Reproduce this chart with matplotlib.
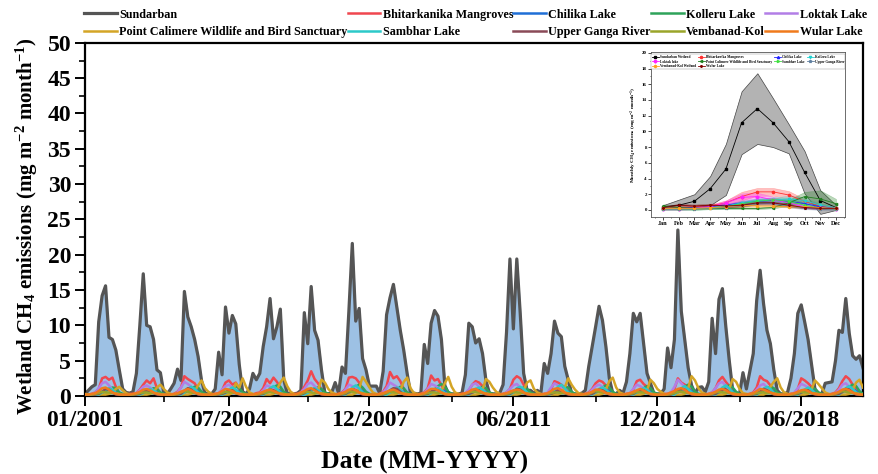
import numpy as np
import matplotlib
matplotlib.use("Agg")
import matplotlib.pyplot as plt
from matplotlib.ticker import MultipleLocator, FixedLocator

plt.rcParams['font.family'] = ['Liberation Serif', 'DejaVu Serif']
plt.rcParams['font.weight'] = 'bold'
plt.rcParams['mathtext.fontset'] = 'custom'
plt.rcParams['mathtext.rm'] = 'Liberation Serif:bold'
plt.rcParams['mathtext.bf'] = 'Liberation Serif:bold'
plt.rcParams['mathtext.it'] = 'Liberation Serif:bold:italic'

# monthly emissions, Jan 2001 .. Dec 2019, one row per year
sundarban = [
    [0.3, 0.8, 1.3, 1.6, 10.5, 14.2, 15.6, 8.3, 8.0, 6.5, 3.7, 1.0],
    [0.5, 0.4, 0.6, 3.2, 10.0, 17.3, 10.0, 9.8, 8.0, 3.7, 3.3, 0.4],
    [0.3, 1.0, 1.8, 3.8, 2.2, 14.8, 11.2, 9.8, 8.0, 5.6, 2.2, 0.4],
    [0.3, 0.3, 1.0, 6.2, 3.0, 12.6, 8.9, 11.4, 10.2, 4.5, 0.6, 0.3],
    [1.0, 3.2, 2.3, 3.2, 7.0, 9.8, 13.8, 8.1, 9.8, 12.3, 2.3, 0.4],
    [0.3, 0.3, 0.4, 0.8, 11.8, 7.4, 15.5, 9.3, 7.9, 3.7, 0.4, 0.3],
    [0.5, 1.9, 0.4, 4.1, 3.2, 12.0, 21.6, 10.6, 12.4, 5.3, 3.7, 1.4],
    [1.4, 1.4, 0.4, 3.5, 11.5, 13.9, 15.8, 12.6, 9.3, 6.5, 3.2, 0.4],
    [0.4, 0.3, 0.4, 7.3, 4.6, 10.3, 12.1, 11.3, 8.0, 1.5, 0.4, 0.3],
    [0.3, 0.3, 0.4, 3.0, 10.3, 9.8, 7.5, 8.1, 6.0, 2.2, 0.4, 0.3],
    [0.3, 0.4, 1.6, 9.0, 19.4, 9.5, 19.4, 11.7, 3.2, 0.8, 0.8, 0.4],
    [0.8, 0.3, 4.6, 3.2, 6.0, 10.6, 8.9, 8.4, 4.2, 2.3, 0.4, 0.3],
    [0.3, 0.4, 0.8, 4.2, 7.0, 9.8, 12.7, 10.7, 7.0, 2.5, 0.4, 0.3],
    [0.8, 0.4, 2.0, 6.0, 11.7, 10.5, 11.7, 7.4, 3.2, 1.8, 0.4, 0.3],
    [0.3, 1.0, 6.8, 4.0, 8.0, 23.5, 12.0, 8.0, 4.0, 1.5, 0.4, 1.2],
    [1.3, 0.6, 2.0, 11.0, 6.0, 13.7, 15.2, 9.8, 5.0, 0.8, 0.4, 0.3],
    [3.3, 1.0, 3.5, 6.0, 13.5, 17.8, 13.1, 9.3, 7.4, 3.7, 0.8, 0.3],
    [0.3, 0.5, 2.5, 6.0, 11.7, 12.9, 10.5, 8.0, 4.5, 1.0, 0.4, 0.3],
    [1.8, 1.9, 2.0, 5.0, 9.3, 9.0, 13.8, 8.9, 5.7, 5.2, 5.7, 4.0],
]
bhitarkanika = [
    [0.2, 0.2, 0.3, 0.5, 1.0, 2.5, 2.7, 2.3, 2.6, 1.3, 0.4, 0.2],
    [0.2, 0.3, 0.3, 0.4, 0.9, 1.6, 2.2, 1.8, 2.5, 1.1, 0.4, 0.2],
    [0.2, 0.2, 0.3, 0.6, 1.2, 2.8, 2.4, 2.1, 1.8, 0.9, 0.3, 0.2],
    [0.2, 0.2, 0.3, 0.4, 0.8, 1.9, 2.2, 1.6, 1.9, 1.0, 0.4, 0.2],
    [0.2, 0.2, 0.4, 0.5, 1.1, 2.4, 1.8, 2.6, 2.0, 1.2, 0.4, 0.2],
    [0.2, 0.3, 0.3, 0.5, 1.3, 2.2, 3.5, 2.4, 1.8, 0.9, 0.3, 0.2],
    [0.2, 0.2, 0.3, 0.5, 1.0, 2.6, 2.7, 2.5, 1.9, 0.8, 0.3, 0.2],
    [0.2, 0.2, 0.3, 0.6, 1.4, 3.4, 2.5, 2.8, 2.1, 1.0, 0.4, 0.2],
    [0.2, 0.2, 0.3, 0.5, 1.1, 2.9, 2.2, 2.4, 1.5, 0.8, 0.3, 0.2],
    [0.2, 0.2, 0.3, 0.4, 0.8, 1.6, 2.1, 1.9, 1.4, 0.9, 0.3, 0.2],
    [0.2, 0.2, 0.3, 0.5, 1.0, 2.3, 2.8, 2.5, 1.6, 0.9, 0.3, 0.2],
    [0.2, 0.2, 0.3, 0.4, 0.9, 2.1, 1.9, 1.6, 1.2, 0.7, 0.3, 0.2],
    [0.2, 0.2, 0.3, 0.5, 1.0, 1.8, 2.2, 2.0, 1.5, 0.8, 0.3, 0.2],
    [0.2, 0.2, 0.3, 0.4, 0.9, 2.1, 2.3, 1.7, 1.3, 0.7, 0.3, 0.2],
    [0.2, 0.3, 0.3, 0.5, 1.0, 2.5, 1.9, 1.6, 1.2, 0.7, 0.3, 0.2],
    [0.2, 0.2, 0.3, 0.5, 1.1, 2.2, 2.7, 2.0, 1.4, 0.8, 0.3, 0.2],
    [0.2, 0.2, 0.3, 0.5, 1.2, 2.8, 2.3, 2.1, 1.5, 0.8, 0.3, 0.2],
    [0.2, 0.2, 0.3, 0.4, 1.0, 2.5, 2.2, 1.8, 1.3, 0.7, 0.3, 0.2],
    [0.2, 0.2, 0.3, 0.5, 1.1, 2.1, 2.8, 2.4, 1.6, 0.9, 0.3, 0.2],
]
chilika = [
    [0.2, 0.2, 0.2, 0.3, 0.4, 0.6, 0.8, 0.9, 0.9, 0.7, 0.4, 0.2],
    [0.2, 0.2, 0.2, 0.3, 0.4, 0.5, 0.7, 0.8, 0.8, 0.6, 0.3, 0.2],
    [0.2, 0.2, 0.2, 0.3, 0.4, 0.6, 0.8, 1.0, 0.9, 0.7, 0.4, 0.2],
    [0.2, 0.2, 0.2, 0.3, 0.4, 0.5, 0.7, 0.9, 0.8, 0.6, 0.3, 0.2],
    [0.2, 0.2, 0.2, 0.3, 0.4, 0.6, 0.9, 1.0, 1.0, 0.7, 0.4, 0.2],
    [0.2, 0.2, 0.2, 0.3, 0.4, 0.6, 0.8, 0.9, 0.9, 0.6, 0.3, 0.2],
    [0.2, 0.2, 0.2, 0.3, 0.4, 0.7, 0.9, 1.1, 1.0, 0.7, 0.4, 0.2],
    [0.2, 0.2, 0.2, 0.3, 0.4, 0.6, 0.8, 0.9, 0.8, 0.6, 0.3, 0.2],
    [0.2, 0.2, 0.2, 0.3, 0.4, 0.6, 0.8, 1.0, 0.9, 0.7, 0.4, 0.2],
    [0.2, 0.2, 0.2, 0.3, 0.4, 0.5, 0.7, 0.8, 0.8, 0.6, 0.3, 0.2],
    [0.2, 0.2, 0.2, 0.3, 0.4, 0.6, 0.9, 1.0, 0.9, 0.7, 0.4, 0.2],
    [0.2, 0.2, 0.2, 0.3, 0.4, 0.6, 0.8, 0.9, 0.9, 0.6, 0.3, 0.2],
    [0.2, 0.2, 0.2, 0.3, 0.4, 0.6, 0.8, 1.0, 0.9, 0.7, 0.4, 0.2],
    [0.2, 0.2, 0.2, 0.3, 0.4, 0.5, 0.7, 0.9, 0.8, 0.6, 0.3, 0.2],
    [0.2, 0.2, 0.2, 0.3, 0.4, 0.7, 0.9, 1.1, 1.0, 0.7, 0.4, 0.2],
    [0.2, 0.2, 0.2, 0.3, 0.4, 0.6, 0.8, 1.0, 0.9, 0.7, 0.4, 0.2],
    [0.2, 0.2, 0.2, 0.3, 0.4, 0.6, 0.8, 0.9, 0.9, 0.6, 0.3, 0.2],
    [0.2, 0.2, 0.2, 0.3, 0.4, 0.5, 0.7, 0.9, 0.8, 0.6, 0.3, 0.2],
    [0.2, 0.2, 0.2, 0.3, 0.4, 0.6, 0.9, 1.0, 1.0, 0.7, 0.4, 0.2],
]
kolleru = [
    [0.2, 0.1, 0.1, 0.1, 0.2, 0.4, 0.7, 1.0, 1.2, 1.1, 0.5, 0.3],
    [0.2, 0.1, 0.1, 0.1, 0.2, 0.3, 0.6, 0.9, 1.1, 1.0, 0.5, 0.3],
    [0.2, 0.1, 0.1, 0.1, 0.2, 0.4, 0.8, 1.1, 1.3, 1.2, 0.6, 0.3],
    [0.2, 0.1, 0.1, 0.1, 0.2, 0.4, 0.7, 1.0, 1.4, 1.1, 0.5, 0.3],
    [0.2, 0.1, 0.1, 0.1, 0.2, 0.5, 0.9, 1.2, 1.5, 1.3, 0.6, 0.3],
    [0.2, 0.1, 0.1, 0.1, 0.2, 0.4, 0.8, 1.1, 1.2, 1.0, 0.5, 0.3],
    [0.2, 0.1, 0.1, 0.1, 0.2, 0.4, 0.8, 1.3, 1.6, 1.2, 0.6, 0.3],
    [0.2, 0.1, 0.1, 0.1, 0.2, 0.4, 0.7, 1.0, 1.3, 1.1, 0.5, 0.3],
    [0.2, 0.1, 0.1, 0.1, 0.2, 0.5, 0.9, 1.4, 1.7, 1.3, 0.6, 0.3],
    [0.2, 0.1, 0.1, 0.1, 0.2, 0.4, 0.8, 1.1, 1.3, 1.1, 0.5, 0.3],
    [0.2, 0.1, 0.1, 0.1, 0.2, 0.4, 0.8, 1.0, 1.2, 1.0, 0.5, 0.3],
    [0.2, 0.1, 0.1, 0.1, 0.2, 0.4, 0.7, 1.0, 1.3, 1.2, 0.6, 0.3],
    [0.2, 0.1, 0.1, 0.1, 0.2, 0.4, 0.8, 1.2, 1.5, 1.2, 0.6, 0.3],
    [0.2, 0.1, 0.1, 0.1, 0.2, 0.4, 0.7, 1.1, 1.4, 1.1, 0.5, 0.3],
    [0.2, 0.1, 0.1, 0.1, 0.2, 0.5, 0.9, 1.3, 1.6, 1.3, 0.6, 0.3],
    [0.2, 0.1, 0.1, 0.1, 0.2, 0.4, 0.8, 1.2, 1.5, 1.2, 0.6, 0.3],
    [0.2, 0.1, 0.1, 0.1, 0.2, 0.4, 0.8, 1.1, 1.3, 1.1, 0.5, 0.3],
    [0.2, 0.1, 0.1, 0.1, 0.2, 0.4, 0.7, 1.0, 1.2, 1.0, 0.5, 0.3],
    [0.2, 0.1, 0.1, 0.1, 0.2, 0.5, 0.9, 1.3, 1.6, 1.4, 0.7, 0.3],
]
loktak = [
    [0.1, 0.1, 0.2, 0.5, 1.1, 1.8, 2.0, 1.5, 0.9, 0.4, 0.2, 0.1],
    [0.1, 0.1, 0.2, 0.4, 0.8, 1.3, 1.5, 1.2, 0.8, 0.4, 0.2, 0.1],
    [0.1, 0.1, 0.2, 0.5, 1.2, 2.0, 1.7, 1.3, 0.9, 0.4, 0.2, 0.1],
    [0.1, 0.1, 0.2, 0.4, 0.9, 1.4, 1.6, 1.2, 0.8, 0.4, 0.2, 0.1],
    [0.1, 0.1, 0.2, 0.4, 0.8, 1.5, 1.3, 1.1, 0.8, 0.3, 0.2, 0.1],
    [0.1, 0.1, 0.2, 0.5, 1.0, 1.7, 1.9, 1.4, 0.9, 0.4, 0.2, 0.1],
    [0.1, 0.1, 0.2, 0.4, 0.9, 1.6, 1.4, 1.2, 0.8, 0.4, 0.2, 0.1],
    [0.1, 0.1, 0.2, 0.5, 1.1, 1.9, 1.6, 1.3, 0.9, 0.4, 0.2, 0.1],
    [0.1, 0.1, 0.2, 0.4, 1.0, 1.7, 1.5, 1.2, 0.8, 0.4, 0.2, 0.1],
    [0.1, 0.1, 0.2, 0.4, 0.9, 1.6, 1.8, 1.3, 0.9, 0.4, 0.2, 0.1],
    [0.1, 0.1, 0.2, 0.5, 1.0, 1.5, 1.7, 1.2, 0.8, 0.4, 0.2, 0.1],
    [0.1, 0.1, 0.2, 0.5, 1.2, 1.8, 1.5, 1.1, 0.8, 0.4, 0.2, 0.1],
    [0.1, 0.1, 0.2, 0.4, 0.9, 1.4, 1.6, 1.3, 0.8, 0.4, 0.2, 0.1],
    [0.1, 0.1, 0.2, 0.4, 1.0, 1.6, 1.4, 1.1, 0.8, 0.3, 0.2, 0.1],
    [0.1, 0.1, 0.2, 0.5, 1.3, 2.3, 1.8, 1.3, 0.9, 0.4, 0.2, 0.1],
    [0.1, 0.1, 0.2, 0.5, 1.1, 1.8, 2.0, 1.4, 0.9, 0.4, 0.2, 0.1],
    [0.1, 0.1, 0.2, 0.4, 0.9, 1.5, 1.7, 1.2, 0.8, 0.4, 0.2, 0.1],
    [0.1, 0.1, 0.2, 0.5, 1.1, 1.7, 1.5, 1.2, 0.8, 0.4, 0.2, 0.1],
    [0.1, 0.1, 0.2, 0.4, 0.9, 1.6, 1.8, 1.3, 0.9, 0.4, 0.2, 0.1],
]
point_calimere = [
    [0.3, 0.2, 0.2, 0.2, 0.2, 0.2, 0.2, 0.3, 0.5, 1.0, 1.3, 0.8],
    [0.4, 0.2, 0.2, 0.2, 0.2, 0.2, 0.2, 0.3, 0.6, 1.2, 1.6, 1.0],
    [0.5, 0.3, 0.2, 0.2, 0.2, 0.2, 0.2, 0.3, 0.7, 1.5, 2.2, 1.1],
    [0.6, 0.3, 0.2, 0.2, 0.2, 0.2, 0.2, 0.4, 1.8, 1.2, 2.5, 1.3],
    [0.5, 0.3, 0.2, 0.2, 0.2, 0.2, 0.2, 0.3, 0.9, 1.9, 2.6, 1.4],
    [0.6, 0.3, 0.2, 0.2, 0.2, 0.2, 0.2, 0.3, 0.8, 2.3, 1.9, 1.0],
    [0.5, 0.3, 0.2, 0.2, 0.2, 0.2, 0.2, 0.4, 1.0, 2.7, 2.0, 1.2],
    [0.5, 0.3, 0.2, 0.2, 0.2, 0.2, 0.2, 0.3, 0.8, 2.0, 2.6, 1.1],
    [0.4, 0.3, 0.2, 0.2, 0.2, 0.2, 0.2, 0.3, 0.7, 1.8, 2.7, 1.3],
    [0.5, 0.3, 0.2, 0.2, 0.2, 0.2, 0.2, 0.3, 0.9, 2.4, 2.0, 1.2],
    [0.6, 0.3, 0.2, 0.2, 0.2, 0.2, 0.2, 0.3, 0.8, 1.9, 2.2, 1.0],
    [0.5, 0.3, 0.2, 0.2, 0.2, 0.2, 0.2, 0.4, 1.2, 2.5, 1.6, 0.9],
    [0.4, 0.3, 0.2, 0.2, 0.2, 0.2, 0.2, 0.3, 0.9, 2.1, 2.6, 1.2],
    [0.5, 0.3, 0.2, 0.2, 0.2, 0.2, 0.2, 0.3, 0.8, 2.3, 1.8, 1.0],
    [0.6, 0.3, 0.2, 0.2, 0.2, 0.2, 0.2, 0.3, 1.1, 2.8, 2.2, 1.1],
    [0.5, 0.3, 0.2, 0.2, 0.2, 0.2, 0.2, 0.3, 1.0, 2.4, 2.0, 1.0],
    [0.4, 0.3, 0.2, 0.2, 0.2, 0.2, 0.2, 0.4, 1.3, 2.0, 2.5, 1.2],
    [0.5, 0.3, 0.2, 0.2, 0.2, 0.2, 0.2, 0.3, 0.9, 2.2, 1.7, 1.1],
    [0.5, 0.3, 0.2, 0.2, 0.2, 0.2, 0.2, 0.3, 0.8, 1.9, 2.3, 1.2],
]
sambhar = [
    [0.1, 0.1, 0.1, 0.1, 0.2, 0.5, 0.9, 1.1, 0.9, 0.4, 0.2, 0.1],
    [0.1, 0.1, 0.1, 0.1, 0.2, 0.4, 0.8, 1.0, 0.8, 0.4, 0.2, 0.1],
    [0.1, 0.1, 0.1, 0.1, 0.2, 0.5, 1.0, 1.3, 1.0, 0.5, 0.2, 0.1],
    [0.1, 0.1, 0.1, 0.1, 0.2, 0.4, 0.9, 1.2, 0.9, 0.4, 0.2, 0.1],
    [0.1, 0.1, 0.1, 0.1, 0.2, 0.5, 1.1, 1.4, 1.0, 0.5, 0.2, 0.1],
    [0.1, 0.1, 0.1, 0.1, 0.2, 0.4, 0.8, 1.1, 0.8, 0.4, 0.2, 0.1],
    [0.1, 0.1, 0.1, 0.1, 0.2, 0.6, 1.2, 1.5, 1.1, 0.5, 0.2, 0.1],
    [0.1, 0.1, 0.1, 0.1, 0.2, 0.5, 0.9, 1.2, 0.9, 0.4, 0.2, 0.1],
    [0.1, 0.1, 0.1, 0.1, 0.2, 0.4, 0.9, 1.1, 0.8, 0.4, 0.2, 0.1],
    [0.1, 0.1, 0.1, 0.1, 0.2, 0.5, 1.0, 1.2, 0.9, 0.4, 0.2, 0.1],
    [0.1, 0.1, 0.1, 0.1, 0.2, 0.5, 1.1, 1.3, 1.0, 0.5, 0.2, 0.1],
    [0.1, 0.1, 0.1, 0.1, 0.3, 0.7, 1.3, 1.6, 1.1, 0.5, 0.2, 0.1],
    [0.1, 0.1, 0.1, 0.1, 0.2, 0.5, 1.0, 1.2, 0.9, 0.4, 0.2, 0.1],
    [0.1, 0.1, 0.1, 0.1, 0.2, 0.5, 0.9, 1.1, 0.9, 0.4, 0.2, 0.1],
    [0.1, 0.1, 0.1, 0.1, 0.2, 0.6, 1.1, 1.4, 1.0, 0.5, 0.2, 0.1],
    [0.1, 0.1, 0.1, 0.1, 0.2, 0.6, 1.2, 1.5, 1.1, 0.5, 0.2, 0.1],
    [0.1, 0.1, 0.1, 0.1, 0.2, 0.5, 1.0, 1.3, 1.0, 0.4, 0.2, 0.1],
    [0.1, 0.1, 0.1, 0.1, 0.2, 0.5, 0.9, 1.2, 0.9, 0.4, 0.2, 0.1],
    [0.1, 0.1, 0.1, 0.1, 0.2, 0.6, 1.1, 1.4, 1.0, 0.5, 0.2, 0.1],
]
upper_ganga = [
    [0.1, 0.1, 0.1, 0.2, 0.3, 0.6, 1.0, 0.9, 0.5, 0.2, 0.1, 0.1],
    [0.1, 0.1, 0.1, 0.2, 0.3, 0.5, 0.8, 0.7, 0.4, 0.2, 0.1, 0.1],
    [0.1, 0.1, 0.1, 0.2, 0.3, 0.7, 1.1, 0.9, 0.5, 0.2, 0.1, 0.1],
    [0.1, 0.1, 0.1, 0.2, 0.3, 0.5, 0.8, 0.8, 0.4, 0.2, 0.1, 0.1],
    [0.1, 0.1, 0.1, 0.2, 0.3, 0.6, 0.9, 0.8, 0.5, 0.2, 0.1, 0.1],
    [0.1, 0.1, 0.1, 0.2, 0.4, 0.7, 1.0, 0.9, 0.5, 0.2, 0.1, 0.1],
    [0.1, 0.1, 0.1, 0.2, 0.3, 0.6, 0.9, 0.8, 0.5, 0.2, 0.1, 0.1],
    [0.1, 0.1, 0.1, 0.2, 0.4, 0.8, 1.1, 1.0, 0.6, 0.2, 0.1, 0.1],
    [0.1, 0.1, 0.1, 0.2, 0.3, 0.6, 0.9, 0.8, 0.5, 0.2, 0.1, 0.1],
    [0.1, 0.1, 0.1, 0.2, 0.3, 0.5, 0.8, 0.7, 0.4, 0.2, 0.1, 0.1],
    [0.1, 0.1, 0.1, 0.2, 0.3, 0.6, 1.0, 0.9, 0.5, 0.2, 0.1, 0.1],
    [0.1, 0.1, 0.1, 0.2, 0.3, 0.5, 0.8, 0.7, 0.4, 0.2, 0.1, 0.1],
    [0.1, 0.1, 0.1, 0.2, 0.3, 0.6, 0.9, 0.8, 0.5, 0.2, 0.1, 0.1],
    [0.1, 0.1, 0.1, 0.2, 0.3, 0.6, 0.9, 0.8, 0.5, 0.2, 0.1, 0.1],
    [0.1, 0.1, 0.1, 0.2, 0.4, 0.7, 1.0, 0.9, 0.5, 0.2, 0.1, 0.1],
    [0.1, 0.1, 0.1, 0.2, 0.3, 0.6, 0.9, 0.9, 0.5, 0.2, 0.1, 0.1],
    [0.1, 0.1, 0.1, 0.2, 0.3, 0.6, 1.0, 0.8, 0.5, 0.2, 0.1, 0.1],
    [0.1, 0.1, 0.1, 0.2, 0.3, 0.5, 0.8, 0.8, 0.4, 0.2, 0.1, 0.1],
    [0.1, 0.1, 0.1, 0.2, 0.3, 0.6, 1.0, 0.9, 0.5, 0.2, 0.1, 0.1],
]
vembanad = [
    [0.2, 0.2, 0.2, 0.3, 0.4, 0.6, 0.5, 0.5, 0.4, 0.4, 0.3, 0.2],
    [0.2, 0.2, 0.2, 0.3, 0.4, 0.5, 0.5, 0.4, 0.4, 0.4, 0.3, 0.2],
    [0.2, 0.2, 0.2, 0.3, 0.5, 0.7, 0.6, 0.5, 0.4, 0.4, 0.3, 0.2],
    [0.2, 0.2, 0.2, 0.3, 0.4, 0.6, 0.5, 0.5, 0.4, 0.3, 0.3, 0.2],
    [0.2, 0.2, 0.2, 0.3, 0.4, 0.5, 0.6, 0.5, 0.4, 0.4, 0.3, 0.2],
    [0.2, 0.2, 0.2, 0.3, 0.5, 0.6, 0.5, 0.4, 0.4, 0.4, 0.3, 0.2],
    [0.2, 0.2, 0.2, 0.3, 0.4, 0.7, 0.6, 0.5, 0.5, 0.4, 0.3, 0.2],
    [0.2, 0.2, 0.2, 0.3, 0.4, 0.6, 0.5, 0.5, 0.4, 0.4, 0.3, 0.2],
    [0.2, 0.2, 0.2, 0.3, 0.4, 0.5, 0.5, 0.4, 0.4, 0.3, 0.3, 0.2],
    [0.2, 0.2, 0.2, 0.3, 0.5, 0.6, 0.6, 0.5, 0.4, 0.4, 0.3, 0.2],
    [0.2, 0.2, 0.2, 0.3, 0.4, 0.6, 0.5, 0.5, 0.4, 0.4, 0.3, 0.2],
    [0.2, 0.2, 0.2, 0.3, 0.4, 0.5, 0.5, 0.4, 0.4, 0.4, 0.3, 0.2],
    [0.2, 0.2, 0.2, 0.3, 0.5, 0.7, 0.6, 0.5, 0.4, 0.4, 0.3, 0.2],
    [0.2, 0.2, 0.2, 0.3, 0.4, 0.6, 0.5, 0.5, 0.4, 0.3, 0.3, 0.2],
    [0.2, 0.2, 0.2, 0.3, 0.4, 0.6, 0.6, 0.5, 0.4, 0.4, 0.3, 0.2],
    [0.2, 0.2, 0.2, 0.3, 0.5, 0.6, 0.5, 0.5, 0.4, 0.4, 0.3, 0.2],
    [0.2, 0.2, 0.2, 0.3, 0.4, 0.5, 0.5, 0.4, 0.4, 0.4, 0.3, 0.2],
    [0.2, 0.2, 0.2, 0.3, 0.4, 0.6, 0.5, 0.5, 0.4, 0.4, 0.3, 0.2],
    [0.2, 0.2, 0.2, 0.3, 0.5, 0.7, 0.6, 0.5, 0.4, 0.4, 0.3, 0.2],
]
wular = [
    [0.2, 0.2, 0.3, 0.4, 0.7, 1.1, 1.2, 0.9, 0.5, 0.3, 0.2, 0.2],
    [0.2, 0.2, 0.3, 0.4, 0.6, 0.9, 1.0, 0.8, 0.5, 0.3, 0.2, 0.2],
    [0.2, 0.2, 0.3, 0.4, 0.6, 0.8, 1.0, 0.8, 0.5, 0.3, 0.2, 0.2],
    [0.2, 0.2, 0.3, 0.4, 0.7, 1.0, 0.9, 0.7, 0.4, 0.3, 0.2, 0.2],
    [0.2, 0.2, 0.3, 0.4, 0.6, 0.8, 0.9, 0.7, 0.5, 0.3, 0.2, 0.2],
    [0.2, 0.2, 0.3, 0.5, 0.7, 1.0, 1.1, 0.8, 0.5, 0.3, 0.2, 0.2],
    [0.2, 0.2, 0.3, 0.4, 0.6, 0.9, 1.0, 0.8, 0.5, 0.3, 0.2, 0.2],
    [0.2, 0.2, 0.3, 0.4, 0.6, 0.8, 0.9, 0.7, 0.4, 0.3, 0.2, 0.2],
    [0.2, 0.2, 0.3, 0.4, 0.7, 1.0, 1.0, 0.8, 0.5, 0.3, 0.2, 0.2],
    [0.2, 0.2, 0.3, 0.4, 0.6, 0.9, 1.0, 0.7, 0.5, 0.3, 0.2, 0.2],
    [0.2, 0.2, 0.3, 0.4, 0.6, 0.8, 0.9, 0.8, 0.5, 0.3, 0.2, 0.2],
    [0.2, 0.2, 0.3, 0.4, 0.7, 1.0, 1.1, 0.8, 0.5, 0.3, 0.2, 0.2],
    [0.2, 0.2, 0.3, 0.4, 0.6, 0.9, 0.9, 0.7, 0.4, 0.3, 0.2, 0.2],
    [0.2, 0.2, 0.3, 0.4, 0.6, 0.8, 1.0, 0.8, 0.5, 0.3, 0.2, 0.2],
    [0.2, 0.2, 0.3, 0.5, 0.7, 1.0, 1.1, 0.9, 0.5, 0.3, 0.2, 0.2],
    [0.2, 0.2, 0.3, 0.4, 0.6, 0.9, 1.0, 0.8, 0.5, 0.3, 0.2, 0.2],
    [0.2, 0.2, 0.3, 0.4, 0.7, 1.0, 0.9, 0.7, 0.5, 0.3, 0.2, 0.2],
    [0.2, 0.2, 0.3, 0.4, 0.6, 0.8, 0.9, 0.7, 0.4, 0.3, 0.2, 0.2],
    [0.2, 0.2, 0.3, 0.4, 0.6, 0.9, 1.0, 0.8, 0.5, 0.3, 0.2, 0.2],
]

names = ["Sundarban", "Bhitarkanika Mangroves", "Chilika Lake", "Kolleru Lake",
         "Loktak Lake", "Point Calimere Wildlife and Bird Sanctuary", "Sambhar Lake",
         "Upper Ganga River", "Vembanad-Kol", "Wular Lake"]
colors = ["#555555", "#f0474f", "#1f6fd6", "#2ea35a", "#b27ee6", "#d4a526",
          "#2cc9c9", "#8a4a58", "#9aa52a", "#f07a1c"]
series = [sundarban, bhitarkanika, chilika, kolleru, loktak, point_calimere,
          sambhar, upper_ganga, vembanad, wular]

# inset: mean monthly climatology
months = ["Jan", "Feb", "Mar", "Apr", "May", "Jun", "Jul", "Aug", "Sep", "Oct", "Nov", "Dec"]
inset_names = ["Sundarban Wetland", "Bhitarkanika Mangroves", "Chilika Lake", "Kolleru Lake",
               "Loktak lake", "Point Calimere Wildlife and Bird Sanctuary", "Sambhar Lake",
               "Upper Ganga River", "Vembanad-Kol Wetland", "Wular Lake"]
inset_colors = ["#000000", "#ff3030", "#2020ff", "#20d0d0", "#ff20ff", "#208020",
                "#40e040", "#6080a0", "#ffa020", "#800000"]
inset_markers = ["s", "o", "^", "v", "D", "<", ">", "p", "h", "*"]
inset_mean = [
    [0.4, 0.6, 1.1, 2.7, 5.2, 11.1, 12.9, 11.1, 8.7, 4.8, 1.2, 0.3],
    [0.2, 0.3, 0.4, 0.5, 0.9, 1.7, 2.3, 2.3, 1.9, 1.1, 0.5, 0.3],
    [0.2, 0.2, 0.3, 0.4, 0.6, 0.9, 1.1, 1.2, 1.1, 0.8, 0.4, 0.2],
    [0.2, 0.2, 0.2, 0.3, 0.5, 0.9, 1.2, 1.3, 1.4, 1.2, 0.6, 0.3],
    [0.1, 0.1, 0.2, 0.4, 0.9, 1.6, 1.7, 1.3, 0.9, 0.4, 0.2, 0.1],
    [0.5, 0.3, 0.2, 0.2, 0.2, 0.2, 0.2, 0.3, 0.9, 1.7, 1.4, 0.8],
    [0.1, 0.1, 0.1, 0.2, 0.4, 0.8, 1.1, 1.3, 1.1, 0.6, 0.2, 0.1],
    [0.1, 0.1, 0.1, 0.2, 0.3, 0.6, 0.9, 0.8, 0.5, 0.2, 0.1, 0.1],
    [0.2, 0.2, 0.2, 0.3, 0.4, 0.6, 0.5, 0.5, 0.4, 0.4, 0.3, 0.2],
    [0.3, 0.6, 0.5, 0.6, 0.5, 0.6, 0.9, 0.9, 0.6, 0.3, 0.2, 0.2],
]
inset_low = [
    [0.2, 0.2, 0.4, 0.6, 1.9, 7.1, 8.4, 8.0, 7.2, 2.1, -0.5, 0.0],
    [0.1, 0.2, 0.3, 0.3, 0.6, 1.2, 1.8, 1.8, 1.4, 0.8, 0.3, 0.2],
    [0.1, 0.1, 0.2, 0.3, 0.4, 0.7, 0.8, 0.9, 0.8, 0.6, 0.3, 0.1],
    [0.1, 0.1, 0.1, 0.2, 0.3, 0.6, 0.9, 1.0, 1.0, 0.8, 0.4, 0.2],
    [0.0, 0.0, 0.1, 0.2, 0.6, 1.1, 1.2, 0.9, 0.6, 0.2, 0.1, 0.0],
    [0.3, 0.2, 0.1, 0.1, 0.1, 0.1, 0.1, 0.2, 0.5, 1.1, 0.4, 0.2],
    [0.0, 0.0, 0.0, 0.1, 0.2, 0.5, 0.8, 1.0, 0.8, 0.4, 0.1, 0.0],
    [0.0, 0.0, 0.0, 0.1, 0.2, 0.4, 0.6, 0.6, 0.3, 0.1, 0.0, 0.0],
    [0.1, 0.1, 0.1, 0.2, 0.3, 0.4, 0.4, 0.4, 0.3, 0.3, 0.2, 0.1],
    [0.2, 0.4, 0.3, 0.4, 0.3, 0.4, 0.7, 0.7, 0.4, 0.2, 0.1, 0.1],
]
inset_high = [
    [0.6, 1.3, 2.0, 4.3, 8.4, 15.1, 17.4, 14.2, 10.9, 7.5, 2.5, 0.6],
    [0.3, 0.4, 0.5, 0.7, 1.2, 2.3, 2.8, 2.8, 2.4, 1.4, 0.7, 0.4],
    [0.3, 0.3, 0.4, 0.5, 0.8, 1.1, 1.4, 1.5, 1.4, 1.0, 0.5, 0.3],
    [0.3, 0.3, 0.3, 0.4, 0.7, 1.2, 1.5, 1.6, 1.8, 1.6, 0.8, 0.4],
    [0.2, 0.2, 0.3, 0.6, 1.2, 2.1, 2.2, 1.7, 1.2, 0.6, 0.3, 0.2],
    [0.7, 0.4, 0.3, 0.3, 0.3, 0.3, 0.3, 0.4, 1.3, 2.3, 2.5, 1.4],
    [0.2, 0.2, 0.2, 0.3, 0.6, 1.1, 1.4, 1.6, 1.4, 0.8, 0.3, 0.2],
    [0.2, 0.2, 0.2, 0.3, 0.4, 0.8, 1.2, 1.0, 0.7, 0.3, 0.2, 0.2],
    [0.3, 0.3, 0.3, 0.4, 0.5, 0.8, 0.6, 0.6, 0.5, 0.5, 0.4, 0.3],
    [0.4, 0.8, 0.7, 0.8, 0.7, 0.8, 1.1, 1.1, 0.8, 0.4, 0.3, 0.3],
]

xticks = [0, 42, 83, 125, 167, 209]
xminor = [23, 65, 107, 149, 191]


def month_label(i):
    return "{:02d}/{}".format(i % 12 + 1, 2001 + i // 12)


fig = plt.figure(figsize=(8.79, 4.74), dpi=100)
ax = fig.add_axes([0.0967, 0.1646, 0.885, 0.745])

n = len(sundarban) * 12
t = np.arange(n)
flat = [np.array(s).ravel() for s in series]

ax.fill_between(t, 0, flat[0], color="#9dc1e4", zorder=1)
handles = []
for k in range(len(series)):
    lw = 2.3 if k == 0 else 1.8
    h, = ax.plot(t, flat[k], color=colors[k], lw=lw, label=names[k], zorder=2 + k)
    handles.append(h)

ax.set_xlim(0, n - 1)
ax.set_ylim(0, 50)
ax.set_xticks(xticks)
ax.set_xticklabels([month_label(i) for i in xticks])
ax.xaxis.set_minor_locator(FixedLocator(xminor))
ax.yaxis.set_major_locator(MultipleLocator(5))
ax.yaxis.set_minor_locator(MultipleLocator(2.5))
ax.tick_params(which="major", direction="out", length=7, width=1.4, labelsize=17, pad=3)
ax.tick_params(which="minor", direction="out", length=4, width=1.2)
for sp in ax.spines.values():
    sp.set_linewidth(1.6)

ax.set_xlabel("Date (MM-YYYY)", fontsize=18.5, fontweight="bold")
ax.xaxis.set_label_coords((425 - 85) / 778, -0.155)
ax.set_ylabel(r"Wetland CH$_4$ emissions (mg m$^{-2}$ month$^{-1}$)",
              fontsize=15, fontweight="bold")
ax.yaxis.set_label_coords(-0.058, 0.48)

order = [0, 5, 1, 6, 2, 7, 3, 8, 4, 9]
fig.legend([handles[i] for i in order], [names[i] for i in order],
           loc="upper left", bbox_to_anchor=(0.096, 0.982), ncol=5, frameon=False,
           fontsize=8.7, handlelength=2.7, handletextpad=0.2, columnspacing=0.0,
           labelspacing=0.47, borderpad=0, borderaxespad=0)

# inset climatology
ins = fig.add_axes([0.7406, 0.5422, 0.2207, 0.348])
xm = np.arange(1, 13)
for k in range(len(inset_mean)):
    if k == 0:
        ins.fill_between(xm, inset_low[k], inset_high[k], facecolor="#b3b3b3",
                         edgecolor="#444444", lw=0.5, zorder=1)
    else:
        ins.fill_between(xm, inset_low[k], inset_high[k], facecolor=inset_colors[k],
                         alpha=0.3, edgecolor=inset_colors[k], lw=0.4, zorder=2)
ih = []
for k in range(len(inset_mean)):
    h, = ins.plot(xm, inset_mean[k], color=inset_colors[k], lw=0.6, marker=inset_markers[k],
                  ms=1.6, label=inset_names[k], zorder=3)
    ih.append(h)
ins.set_xlim(0.24, 12.57)
ins.set_ylim(-0.9, 20.1)
ins.set_xticks(xm)
ins.set_xticklabels(months)
ins.set_yticks(range(0, 21, 2))
ins.xaxis.set_minor_locator(MultipleLocator(0.5))
ins.yaxis.set_minor_locator(MultipleLocator(1))
ins.tick_params(which="major", direction="out", length=2, width=0.5, labelsize=4.5, pad=1)
ins.tick_params(axis="y", labelsize=3.5)
ins.tick_params(which="minor", direction="out", length=1, width=0.4)
for sp in ins.spines.values():
    sp.set_linewidth(0.6)
    sp.set_color("#555555")
ins.set_ylabel(r"Monthly CH$_4$ emissions (mg m$^{-2}$ month$^{-1}$)", fontsize=3.8,
               fontweight="bold", labelpad=2)
iorder = [0, 4, 8, 1, 5, 9, 2, 6, 3, 7]
ins.legend([ih[i] for i in iorder], [inset_names[i] for i in iorder], loc="upper center",
           ncol=4, fontsize=2.5, handlelength=2.0, handletextpad=0.3, columnspacing=0.6,
           labelspacing=0.2, borderpad=0.3, frameon=True, fancybox=False,
           edgecolor="#888888", framealpha=1).get_frame().set_linewidth(0.3)

fig.savefig("out.png", dpi=100)
